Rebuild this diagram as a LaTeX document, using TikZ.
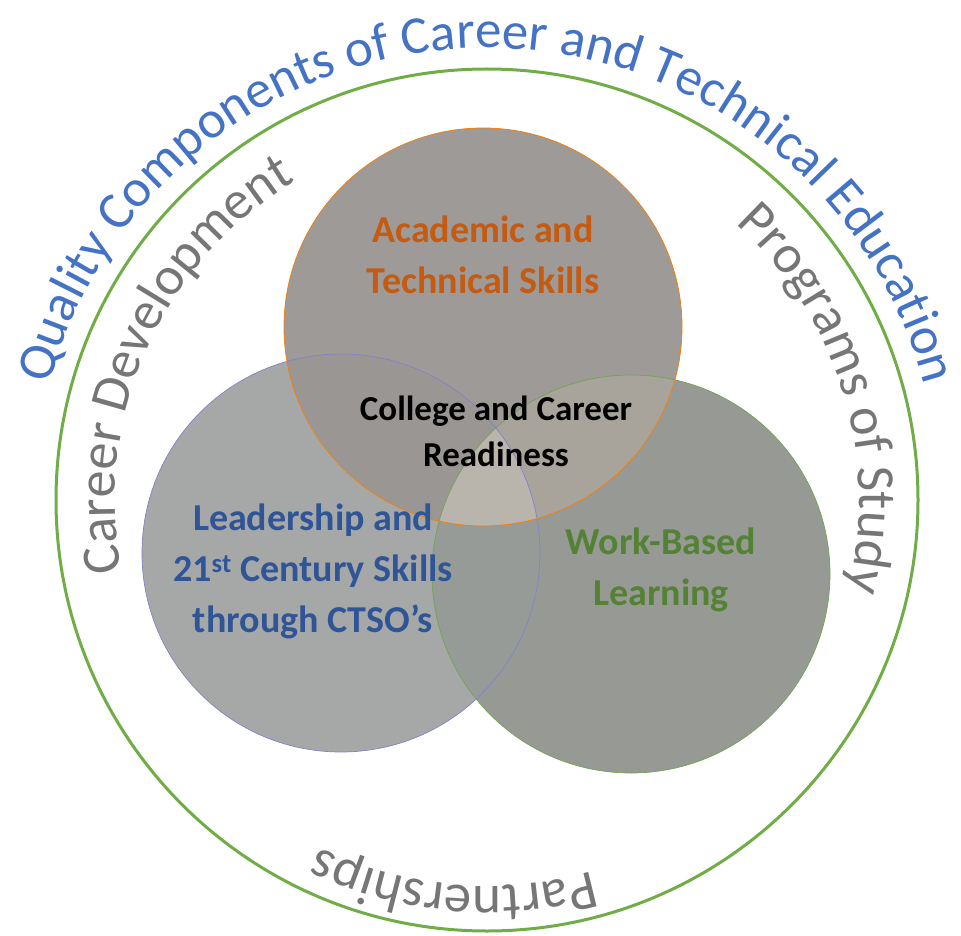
\documentclass[tikz,border=0pt]{standalone}
\usepackage{fontspec}
\setmainfont{Carlito}
\usetikzlibrary{decorations.text}
\definecolor{ringgreen}{HTML}{70AD47}
\definecolor{titleblue}{HTML}{4472C4}
\definecolor{ringgray}{HTML}{767676}
\definecolor{acadorange}{HTML}{C55A11}
\definecolor{leadblue}{HTML}{2F5597}
\definecolor{workgreen}{HTML}{548235}
\definecolor{topfill}{HTML}{9E9A97}
\definecolor{leftfill}{HTML}{A6A8A8}
\definecolor{rightfill}{HTML}{979995}
\definecolor{tlfill}{HTML}{9A9694}
\definecolor{trfill}{HTML}{A8A49C}
\definecolor{lrfill}{HTML}{969B98}
\definecolor{allfill}{HTML}{B9B5AC}
\tikzset{
  venn label/.style={align=center,font=\fontsize{38}{51}\selectfont\bfseries},
  ring text/.style={decorate,decoration={text along path,text align=center,text={#1}}}
}
\begin{document}
\begin{tikzpicture}[x=1pt,y=1pt]
    \useasboundingbox (0,0) rectangle (961,-936);
    \coordinate (c) at (487,-500);
    \coordinate (top) at (483,-327);
    \coordinate (left) at (341,-553);
    \coordinate (right) at (631,-574);
    % outer ring
    \draw[ringgreen,line width=3pt] (c) circle[radius=431pt];
    % circles and their overlaps
    \fill[topfill] (top) circle[radius=199pt];
    \fill[leftfill] (left) circle[radius=199pt];
    \fill[rightfill] (right) circle[radius=199pt];
    \begin{scope}
        \clip (top) circle[radius=199pt];
        \fill[tlfill] (left) circle[radius=199pt];
        \fill[trfill] (right) circle[radius=199pt];
        \clip (left) circle[radius=199pt];
        \fill[allfill] (right) circle[radius=199pt];
    \end{scope}
    \begin{scope}
        \clip (left) circle[radius=199pt];
        \clip (right) circle[radius=199pt];
        \fill[lrfill,even odd rule] (-10,10) rectangle (970,-946) (top) circle[radius=199pt];
    \end{scope}
    \draw[blue!40!gray!70,line width=0.7pt] (left) circle[radius=199pt];
    \draw[ringgreen!80!gray,line width=0.7pt] (right) circle[radius=199pt];
    \draw[orange!80!brown,line width=0.8pt] (top) circle[radius=199pt];
    % labels
    \node[venn label,text=acadorange] (acad) at (483,-255) {Academic and\\Technical Skills};
    \node[venn label,text=leadblue] (lead) at (313,-571) {Leadership and\\21\textsuperscript{st} Century Skills\\through CTSO’s};
    \node[venn label,text=workgreen] (work) at (661,-570) {Work-Based\\Learning};
    \node[align=center,font=\fontsize{35}{46}\selectfont\bfseries] (ready) at (496,-431) {College and Career\\Readiness};
    % ring texts
    \path[ring text={|\fontsize{53}{60}\selectfont\color{titleblue}|Quality Components of Career and Technical Education}]
        (c) ++(180:452) arc[start angle=180,end angle=0,radius=452pt];
    \path[ring text={|\fontsize{54}{60}\selectfont\color{ringgray}|Career Development}]
        (c) ++(216:372) arc[start angle=216,end angle=96,radius=372pt];
    \path[ring text={|\fontsize{54}{60}\selectfont\color{ringgray}|Programs of Study}]
        (c) ++(77:372) arc[start angle=77,end angle=-43,radius=372pt];
    \path[ring text={|\fontsize{55}{60}\selectfont\color{ringgray}|Partnerships}]
        (c) ++(-35:386) arc[start angle=-35,end angle=-155,radius=386pt];
\end{tikzpicture}
\end{document}
